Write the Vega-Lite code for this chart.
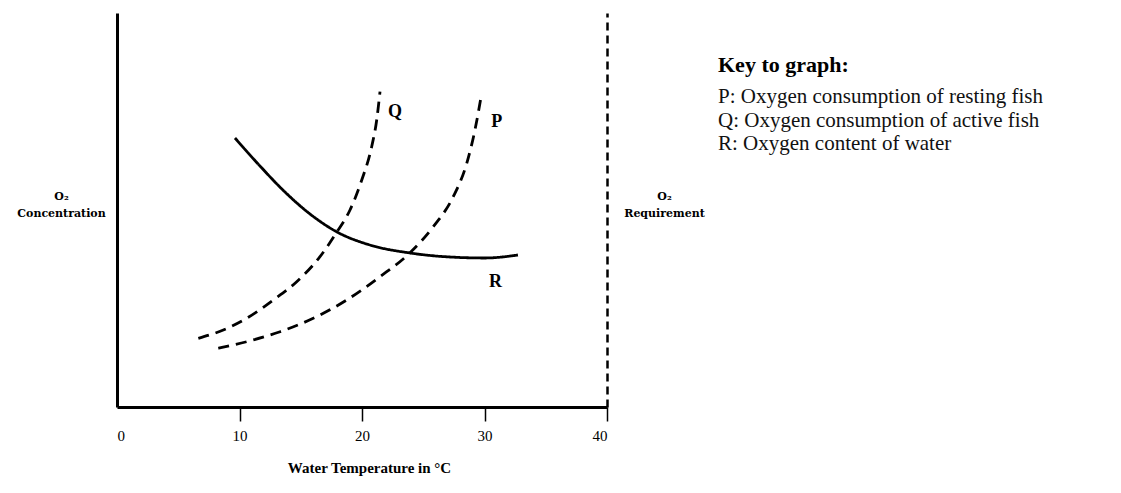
{
  "$schema": "https://vega.github.io/schema/vega-lite/v6.json",
  "width": 490,
  "height": 394,
  "autosize": {"type": "none"},
  "padding": {"left": 117, "top": 13, "right": 514, "bottom": 86},
  "background": "white",
  "config": {"view": {"stroke": null}, "font": "Liberation Serif"},
  "title": {
    "text": "Key to graph:",
    "subtitle": ["P: Oxygen consumption of resting fish", "Q: Oxygen consumption of active fish", "R: Oxygen content of water"],
    "anchor": "start",
    "frame": "group",
    "orient": "top",
    "dx": 601,
    "dy": 146,
    "font": "Liberation Serif",
    "fontSize": 22,
    "fontWeight": "bold",
    "color": "black",
    "subtitleFont": "Liberation Serif",
    "subtitleFontSize": 21,
    "subtitleLineHeight": 23.5,
    "subtitlePadding": 9,
    "subtitleColor": "#111"
  },
  "datasets": {
    "curves": [
      {"series": "R", "x": 9.63, "y": 68.27},
      {"series": "R", "x": 11.67, "y": 61.17},
      {"series": "R", "x": 13.71, "y": 54.57},
      {"series": "R", "x": 15.76, "y": 48.98},
      {"series": "R", "x": 17.96, "y": 44.42},
      {"series": "R", "x": 20.65, "y": 41.12},
      {"series": "R", "x": 23.92, "y": 39.09},
      {"series": "R", "x": 27.18, "y": 38.07},
      {"series": "R", "x": 30.04, "y": 37.82},
      {"series": "R", "x": 32.73, "y": 38.58},
      {"series": "Q", "x": 6.64, "y": 17.44},
      {"series": "Q", "x": 8.68, "y": 19.54},
      {"series": "Q", "x": 10.59, "y": 22.51},
      {"series": "Q", "x": 12.76, "y": 27.16},
      {"series": "Q", "x": 14.67, "y": 31.8},
      {"series": "Q", "x": 16.57, "y": 38.15},
      {"series": "Q", "x": 17.93, "y": 44.34},
      {"series": "Q", "x": 19.02, "y": 50.0},
      {"series": "Q", "x": 19.98, "y": 57.61},
      {"series": "Q", "x": 20.79, "y": 66.07},
      {"series": "Q", "x": 21.2, "y": 72.84},
      {"series": "Q", "x": 21.47, "y": 80.03},
      {"series": "P", "x": 8.27, "y": 14.9},
      {"series": "P", "x": 10.59, "y": 16.57},
      {"series": "P", "x": 13.31, "y": 19.11},
      {"series": "P", "x": 16.02, "y": 22.51},
      {"series": "P", "x": 18.75, "y": 27.16},
      {"series": "P", "x": 21.47, "y": 33.07},
      {"series": "P", "x": 23.92, "y": 39.16},
      {"series": "P", "x": 25.82, "y": 45.76},
      {"series": "P", "x": 27.45, "y": 53.38},
      {"series": "P", "x": 28.55, "y": 61.85},
      {"series": "P", "x": 29.22, "y": 70.3},
      {"series": "P", "x": 29.77, "y": 79.62}
    ],
    "labels": [
      {"label": "Q", "x": 22.7, "y": 74.9},
      {"label": "P", "x": 31.0, "y": 72.3},
      {"label": "R", "x": 30.9, "y": 31.7}
    ]
  },
  "layer": [
    {
      "data": {"name": "curves"},
      "mark": {"type": "line", "interpolate": "monotone", "color": "black", "strokeCap": "butt"},
      "encoding": {
        "x": {
          "field": "x", "type": "quantitative",
          "scale": {"domain": [0, 40], "nice": false, "zero": false},
          "axis": {
            "values": [0, 10, 20, 30, 40],
            "grid": false,
            "domainWidth": 3,
            "domainColor": "black",
            "tickSize": 14,
            "tickWidth": 1.5,
            "tickColor": {"condition": {"test": "datum.value === 0", "value": "transparent"}, "value": "black"},
            "labelFont": "Liberation Serif",
            "labelFontSize": 15,
            "labelPadding": 7,
            "labelColor": "black",
            "title": "Water Temperature in °C",
            "titleFont": "Liberation Serif",
            "titleFontSize": 15,
            "titleFontWeight": "bold",
            "titleColor": "black",
            "titleX": 252,
            "titleY": 53,
            "titleAlign": "center",
            "titleBaseline": "top"
          }
        },
        "y": {
          "field": "y", "type": "quantitative",
          "scale": {"domain": [0, 100], "nice": false},
          "axis": {
            "orient": "left",
            "grid": false,
            "ticks": false,
            "labels": false,
            "domainWidth": 3,
            "domainColor": "black",
            "title": ["O₂", "Concentration"],
            "titleAngle": 0,
            "titleAlign": "center",
            "titleBaseline": "alphabetic",
            "titleX": -56,
            "titleY": 186,
            "titleFont": "DejaVu Serif",
            "titleFontSize": 11,
            "titleFontWeight": "bold",
            "titleColor": "black",
            "titleLineHeight": 17
          }
        },
        "detail": {"field": "series"},
        "strokeDash": {
          "field": "series", "type": "nominal",
          "scale": {"domain": ["P", "Q", "R"], "range": [[11, 7], [11, 7], [1, 0]]},
          "legend": null
        },
        "strokeWidth": {
          "field": "series", "type": "nominal",
          "scale": {"domain": ["P", "Q", "R"], "range": [2.8, 2.8, 1.6]},
          "legend": null
        }
      }
    },
    {
      "data": {"name": "labels"},
      "mark": {"type": "text", "font": "Liberation Serif", "fontSize": 18, "fontWeight": "bold", "color": "black", "align": "center", "baseline": "middle"},
      "encoding": {
        "x": {"field": "x", "type": "quantitative"},
        "y": {
          "field": "y", "type": "quantitative",
          "scale": {"domain": [0, 100], "nice": false},
          "axis": {
            "orient": "right",
            "grid": false,
            "ticks": false,
            "labels": false,
            "domainWidth": 2.5,
            "domainColor": "black",
            "domainDash": [8, 5],
            "title": ["O₂", "Requirement"],
            "titleAngle": 0,
            "titleAlign": "center",
            "titleBaseline": "alphabetic",
            "titleX": 57,
            "titleY": 186,
            "titleFont": "DejaVu Serif",
            "titleFontSize": 11,
            "titleFontWeight": "bold",
            "titleColor": "black",
            "titleLineHeight": 17
          }
        },
        "text": {"field": "label"}
      }
    }
  ],
  "resolve": {"scale": {"y": "independent"}}
}
